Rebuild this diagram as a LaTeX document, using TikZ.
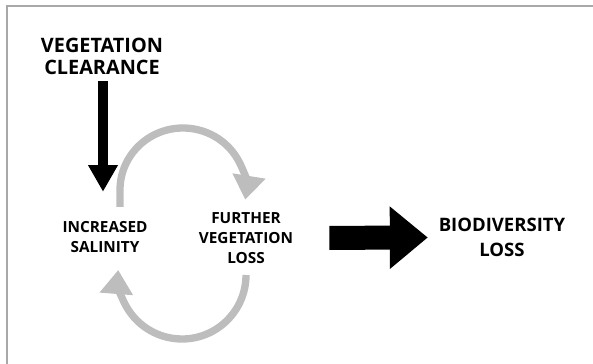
\documentclass[tikz,border=0pt]{standalone}
\usepackage{fontspec}
\setmainfont{Open Sans}
\usepackage{tikz}
\usetikzlibrary{arrows.meta}

\definecolor{cyclegray}{HTML}{BDBDBD}
\definecolor{framegray}{HTML}{A8A8A8}

\begin{document}
\begin{tikzpicture}[x=0.75pt,y=0.75pt,
	lbl/.style={align=center,inner sep=2pt},
	downarrow/.style={line width=7.5pt,-{Triangle[width=21pt,length=20pt]}},
	bigarrow/.style={line width=18pt,-{Triangle[width=45pt,length=28.5pt]}},
	cyclearrow/.style={cyclegray,line width=5.5pt,-{Triangle[width=24pt,length=18pt]}}]

\useasboundingbox (0,0) rectangle (593,364);
\draw[framegray,line width=1.5pt] (7,0)--(7,358)--(593,358);

\node[lbl,font=\fontsize{14.9}{16.5}\selectfont\bfseries] (clear) at (102,308) {VEGETATION\\CLEARANCE};
\node[lbl,font=\fontsize{11.5}{15}\selectfont\bfseries] (sal) at (105,127) {INCREASED\\SALINITY};
\node[lbl,font=\fontsize{11.5}{15}\selectfont\bfseries] (further) at (246,126) {FURTHER\\VEGETATION\\LOSS};
\node[lbl,font=\fontsize{13.9}{18.75}\selectfont\bfseries] (bio) at (502,126.5) {BIODIVERSITY\\LOSS};

\coordinate (topstart) at (120,157);
\coordinate (botstart) at (246,89);

\draw[downarrow,shorten <=3pt,shorten >=20pt] ([xshift=0.75pt]clear.south)--([xshift=0.75pt]clear.south |- sal.north);
\draw[bigarrow,shorten <=25pt,shorten >=6pt] (further.east)--(bio.west);

\draw[cyclearrow] (topstart)--++(0,17) arc[start angle=180,end angle=-9,x radius=63,y radius=62];
\draw[cyclearrow] (botstart) arc[start angle=0,end angle=-184.5,radius=64];

\end{tikzpicture}
\end{document}
